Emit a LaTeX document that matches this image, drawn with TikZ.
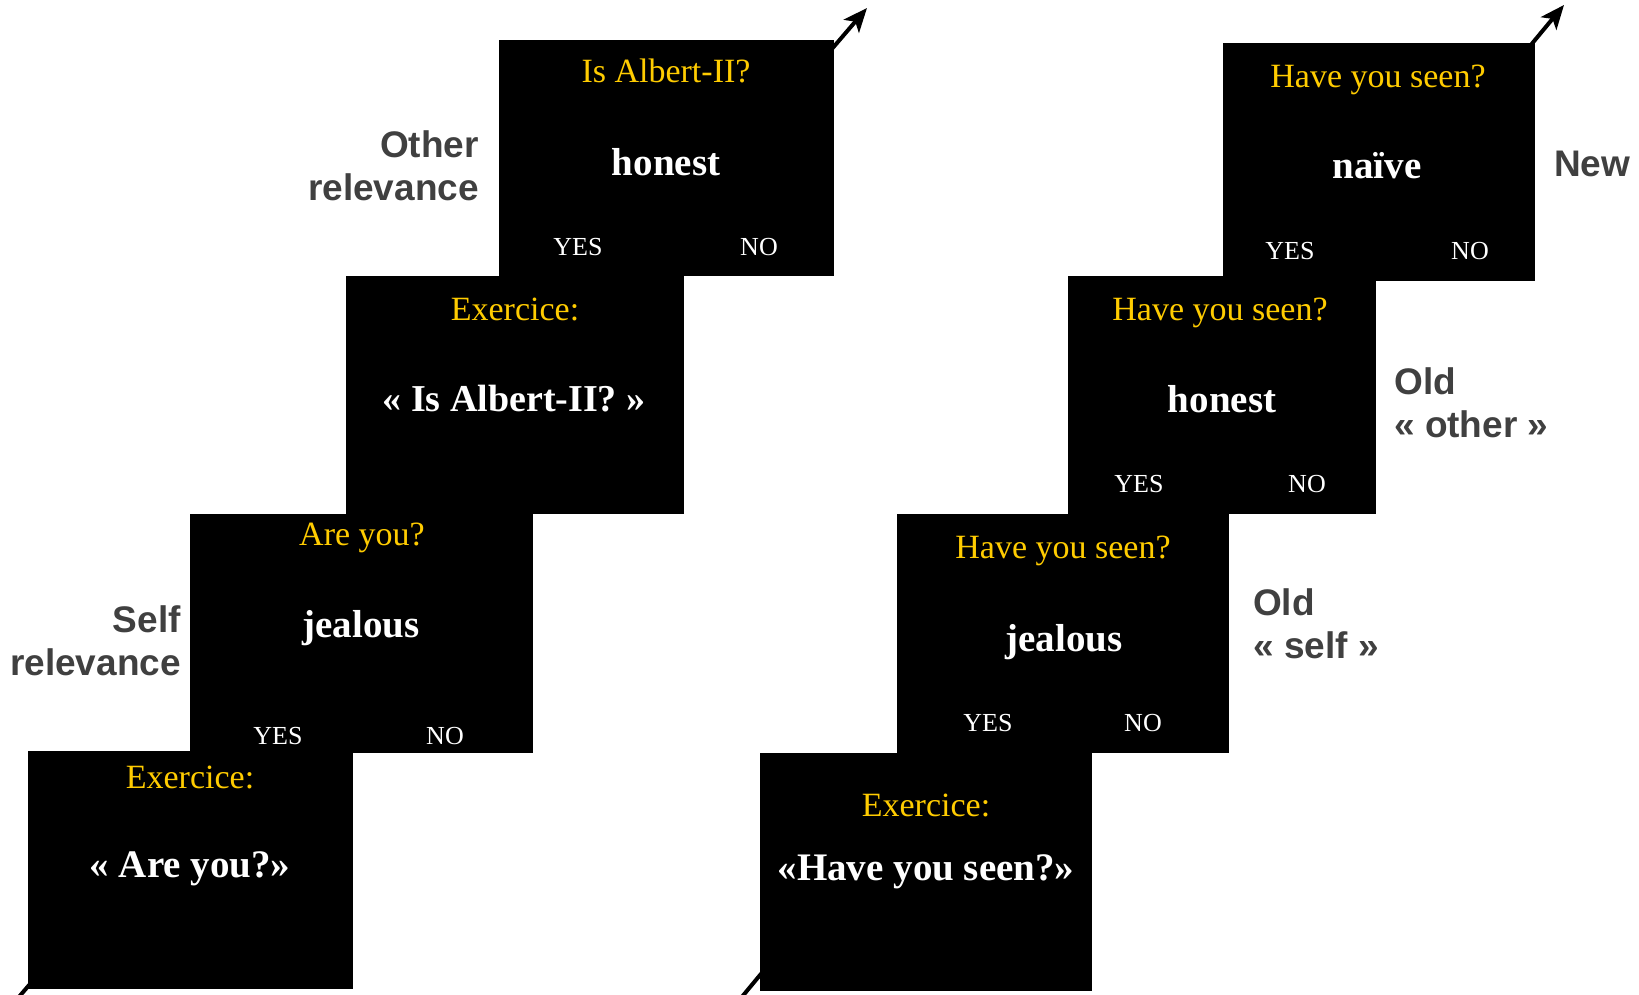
\documentclass[tikz,border=0pt]{standalone}
\usepackage{fontspec}
\setmainfont{Liberation Serif}
\newfontfamily\arialf{Liberation Sans}
\usetikzlibrary{arrows.meta}
\definecolor{gold}{HTML}{FFCC00}
\definecolor{lblgray}{HTML}{404040}
\begin{document}
\begin{tikzpicture}[x=1pt,y=-1pt,
  ques/.style={text=gold,inner sep=0pt,font=\fontsize{34}{40}\selectfont},
  word/.style={text=white,inner sep=0pt,font=\fontsize{39}{45}\selectfont\bfseries},
  ans/.style={text=white,inner sep=0pt,font=\fontsize{26}{30}\selectfont},
  side/.style={text=lblgray,inner sep=0pt,align=#1,font=\fontsize{37}{43}\selectfont\arialf\bfseries},
  timeline/.style={line width=4pt,-{Stealth[length=24pt,width=20pt,inset=6pt]}}]
\useasboundingbox (0,0) rectangle (1639,995);
% timelines
\coordinate (l0) at (18,998);
\coordinate (l1) at (867,8);
\coordinate (r0) at (741,998);
\coordinate (r1) at (1564,5);
\draw[timeline] (l0) -- (l1);
\draw[timeline] (r0) -- (r1);
% left sequence cards
\fill[black] (499,40) rectangle (834,276);
\fill[black] (346,276) rectangle (684,514);
\fill[black] (190,514) rectangle (533,753);
\fill[black] (28,751) rectangle (353,989);
% right sequence cards
\fill[black] (1223,43) rectangle (1535,281);
\fill[black] (1068,276) rectangle (1376,514);
\fill[black] (897,514) rectangle (1229,753);
\fill[black] (760,753) rectangle (1092,991);
% left texts
\node[ques] (lq1) at (666,71) {Is Albert-II?};
\node[word] (lw1) at (666,162) {honest};
\node[ans] (ly1) at (578,247) {YES};
\node[ans] (ln1) at (759,247) {NO};
\node[ques] (lq2) at (515,309) {Exercice:};
\node[word,font=\fontsize{38}{44}\selectfont\bfseries] (lw2) at (514,399) {« Is Albert-II? »};
\node[ques] (lq3) at (362,538) {Are you?};
\node[word] (lw3) at (361,628) {jealous};
\node[ans] (ly3) at (278,736) {YES};
\node[ans] (ln3) at (445,736) {NO};
\node[ques] (lq4) at (190,777) {Exercice:};
\node[word] (lw4) at (190,869) {« Are you?»};
% right texts
\node[ques] (rq1) at (1378,80) {Have you seen?};
\node[word] (rw1) at (1377,166) {naïve};
\node[ans] (ry1) at (1290,251) {YES};
\node[ans] (rn1) at (1470,251) {NO};
\node[ques] (rq2) at (1220,313) {Have you seen?};
\node[word] (rw2) at (1222,399) {honest};
\node[ans] (ry2) at (1139,484) {YES};
\node[ans] (rn2) at (1307,484) {NO};
\node[ques] (rq3) at (1063,551) {Have you seen?};
\node[word] (rw3) at (1064,642) {jealous};
\node[ans] (ry3) at (988,723) {YES};
\node[ans] (rn3) at (1143,723) {NO};
\node[ques] (rq4) at (926,805) {Exercice:};
\node[word] (rw4) at (926,872) {«Have you seen?»};
% side labels
\node[side=right,anchor=east] (other) at (479,166) {Other\\relevance};
\node[side=right,anchor=east] (self) at (181,641) {Self\\relevance};
\node[side=left,anchor=west] (new) at (1554,164) {New};
\node[side=left,anchor=west] (oldo) at (1394,403) {Old\\« other »};
\node[side=left,anchor=west] (olds) at (1253,624) {Old\\« self »};
\end{tikzpicture}
\end{document}
